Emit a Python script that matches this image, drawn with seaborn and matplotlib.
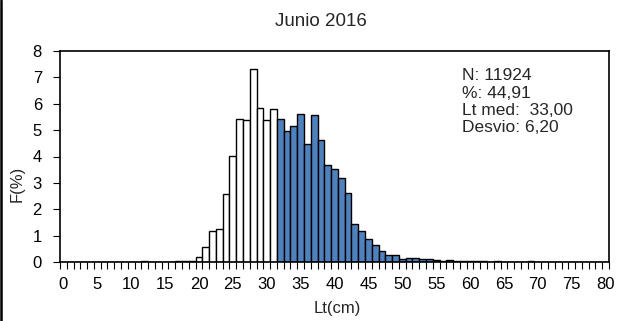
import numpy as np
import pandas as pd
import matplotlib
matplotlib.use("Agg")
import matplotlib.pyplot as plt
import seaborn as sns
from matplotlib.lines import Line2D

# ---- data ----
lengths = list(range(0, 81))
freq = [0, 0, 0, 0, 0, 0, 0, 0, 0, 0,           # 0-9
        0, 0, 0.04, 0, 0, 0, 0, 0.02, 0.02, 0.05,  # 10-19
        0.18, 0.55, 1.16, 1.27, 2.57, 4.01, 5.43, 5.37, 7.33, 5.82,  # 20-29
        5.38, 5.79, 5.42, 4.97, 5.14, 5.60, 4.47, 5.58, 4.63, 3.66,  # 30-39
        3.51, 3.20, 2.63, 1.45, 1.19, 0.89, 0.66, 0.41, 0.28, 0.28,  # 40-49
        0.10, 0.16, 0.16, 0.10, 0.10, 0.06, 0.03, 0.06, 0.03, 0.02,  # 50-59
        0.02, 0.02, 0.02, 0, 0.03, 0, 0, 0, 0, 0.04,  # 60-69
        0, 0, 0, 0, 0, 0, 0, 0, 0, 0, 0]              # 70-80
cutoff = 32  # first length drawn in blue
group = ["bajo" if l < cutoff else "sobre" for l in lengths]
xtick_vals = list(range(0, 81, 5))
ytick_vals = list(range(0, 9))
title = "Junio 2016"
stats_lines = ["N: 11924", "%: 44,91", "Lt med:  33,00", "Desvio: 6,20"]

df = pd.DataFrame({"Lt": lengths, "F": freq, "g": group})

sns.set_style("white")
plt.rcParams["font.family"] = ["Liberation Sans", "DejaVu Sans"]

W, H = 621, 321
fig = plt.figure(figsize=(W / 100, H / 100), dpi=100)
ax = fig.add_axes([60 / W, 1 - 262 / H, (609 - 60) / W, (262 - 51) / H])

sns.barplot(data=df, x="Lt", y="F", hue="g", order=lengths,
            palette={"bajo": "white", "sobre": "#4F81BD"},
            saturation=1, width=1, dodge=False, legend=False,
            edgecolor="black", linewidth=1.0, ax=ax)

ax.set_xlim(-0.5, 80.5)
ax.set_ylim(0, 8)
ax.set_xticks(xtick_vals)
ax.set_xticklabels([str(v) for v in xtick_vals])
ax.set_xticks(np.arange(-0.5, 81, 1), minor=True)
ax.set_yticks(ytick_vals)
ax.set_yticklabels([str(v) for v in ytick_vals])
ax.tick_params(axis="x", which="major", length=0, pad=11, labelsize=12, colors="black")
ax.tick_params(axis="x", which="minor", length=5, width=0.8, direction="out",
               bottom=True, color="black")
ax.tick_params(axis="y", which="major", length=5, width=0.8, direction="out",
               left=True, pad=8, labelsize=12, colors="black")
ax.set_xlabel("")
ax.set_ylabel("")
for s in ax.spines.values():
    s.set_visible(True)
    s.set_color("black")
    s.set_linewidth(1.2)

fig.text(321 / W, 1 - 21 / H, title, ha="center", va="center", fontsize=13.5)
fig.text(337 / W, 1 - 309 / H, "Lt(cm)", ha="center", va="center", fontsize=12)
fig.text(17 / W, 1 - 184 / H, "F(%)", ha="center", va="center", rotation=90, fontsize=12)

for i, line in enumerate(stats_lines):
    fig.text(462 / W, 1 - (80 + 17.5 * i) / H, line, ha="left", va="baseline", fontsize=12.5)

fig.add_artist(Line2D([1.2 / W, 1.2 / W], [0, 1], color="black", lw=1.8,
                      transform=fig.transFigure))

fig.savefig("out.png", dpi=100, facecolor="white")
